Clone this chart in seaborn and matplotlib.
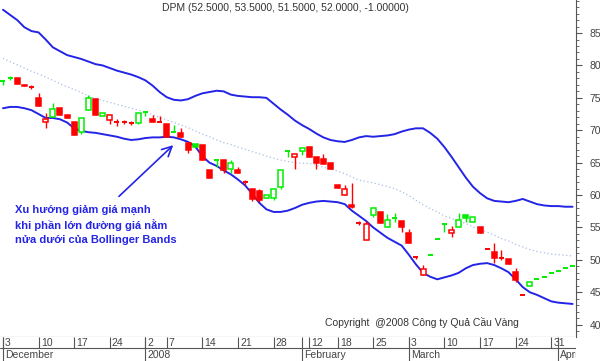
import matplotlib
matplotlib.use("Agg")
import matplotlib.pyplot as plt
from matplotlib.ticker import MultipleLocator
import seaborn as sns
import pandas as pd

# trading calendar (Tet holiday and new year closed)
holidays = ["2007-12-31", "2008-01-01", "2008-02-04", "2008-02-05", "2008-02-06",
            "2008-02-07", "2008-02-08", "2008-02-11"]
dates = pd.bdate_range("2007-12-03", "2008-04-03", freq="C", holidays=holidays)

opens = [77.6, 78.1, 78.1, 76.8, 76.7, 75.0, 71.3, 72.0, 73.4, 72.4,
         71.3, 69.7, 73.1, 74.8, 72.2, 71.6, 71.3, 71.2, 71.15, 71.1,
         72.8, 71.7, 71.25, 71.0, 69.8, 69.6, 68.0, 67.9, 67.8, 63.9,
         65.4, 65.4, 64.1, 63.9, 62.0, 60.9, 60.6, 59.5, 59.5, 61.2,
         66.8, 65.9, 66.8, 67.4, 65.9, 65.6, 64.9, 61.5, 60.0, 58.4,
         55.7, 53.1, 56.9, 57.4, 55.1, 56.5, 56.0, 54.1, 50.4, 47.7,
         50.7, 53.2, 55.5, 54.1, 55.1, 56.9, 55.8, 55.1, 51.7, 51.2,
         50.25, 50.2, 48.1, 44.6, 46.0, 47.0, 47.3, 48.0, 48.3, 48.7, 49.0]
highs = [77.6, 78.4, 78.1, 77.1, 77.0, 75.7, 72.7, 74.2, 73.4, 72.4,
         71.3, 71.9, 75.5, 74.8, 72.7, 72.4, 71.7, 71.6, 71.5, 72.7,
         72.8, 72.4, 72.2, 71.0, 70.8, 70.3, 68.0, 67.9, 67.8, 63.9,
         65.4, 65.4, 65.4, 64.3, 62.4, 60.9, 60.9, 60.0, 60.9, 63.9,
         66.8, 66.3, 67.3, 67.4, 65.9, 66.3, 64.9, 61.5, 61.5, 61.9,
         56.0, 56.0, 58.0, 57.4, 57.1, 57.2, 56.0, 54.8, 50.6, 49.2,
         50.7, 53.2, 55.5, 55.2, 57.2, 56.9, 56.6, 55.1, 51.7, 52.6,
         51.5, 50.2, 48.7, 44.6, 46.6, 47.0, 47.3, 48.0, 48.3, 48.7, 49.0]
lows = [77.0, 77.8, 77.1, 76.8, 76.4, 73.7, 70.3, 72.0, 72.4, 71.9,
        69.3, 69.5, 73.1, 72.4, 72.2, 70.9, 70.6, 70.9, 70.8, 71.0,
        72.2, 71.3, 71.25, 69.0, 69.8, 69.0, 66.5, 67.4, 65.4, 62.6,
        64.3, 63.4, 63.4, 63.4, 61.6, 59.1, 59.0, 59.5, 59.2, 60.9,
        65.9, 64.0, 66.2, 65.9, 64.0, 64.85, 64.0, 61.1, 60.0, 58.0,
        55.4, 53.1, 56.6, 55.7, 55.1, 55.8, 54.3, 52.6, 50.2, 47.7,
        50.7, 53.2, 54.3, 53.5, 55.1, 55.8, 55.8, 54.1, 51.7, 49.5,
        50.0, 49.4, 46.6, 44.6, 46.0, 47.0, 47.3, 48.0, 48.3, 48.7, 49.0]
closes = [77.6, 78.1, 77.1, 77.05, 76.7, 73.7, 71.8, 73.3, 72.4, 71.9,
          69.3, 71.9, 75.0, 72.4, 72.7, 72.4, 71.3, 71.2, 71.15, 72.7,
          72.8, 71.3, 71.25, 69.0, 69.8, 69.0, 67.0, 67.4, 65.4, 62.6,
          65.4, 63.9, 64.9, 63.4, 62.0, 59.4, 59.3, 60.0, 60.9, 63.9,
          66.8, 66.3, 67.3, 65.9, 64.9, 64.85, 64.0, 61.1, 60.9, 58.1,
          55.7, 55.6, 58.0, 55.7, 56.1, 56.5, 55.1, 52.6, 50.4, 48.6,
          50.7, 53.2, 55.5, 54.6, 56.1, 56.5, 56.6, 54.1, 51.7, 50.3,
          50.25, 49.4, 46.9, 44.6, 46.6, 47.0, 47.3, 48.0, 48.3, 48.7, 49.0]

upper = [88.6, 87.8, 87.0, 85.9, 85.3, 85.1, 84.0, 82.8, 82.2, 81.6,
         81.3, 81.0, 80.6, 80.2, 80.0, 79.6, 79.2, 78.9, 78.6, 78.2,
         77.7, 76.9, 75.9, 75.1, 74.7, 74.6, 74.8, 75.3, 75.7, 75.9,
         76.1, 76.0, 75.5, 75.3, 75.2, 75.1, 75.1, 75.0, 74.1, 73.2,
         72.4, 71.5, 70.8, 70.2, 69.5, 68.9, 68.5, 68.3, 68.2, 68.5,
         68.9, 69.1, 69.0, 69.1, 69.2, 69.4, 69.8, 70.1, 70.3, 70.3,
         69.6, 68.7, 67.4, 65.9, 64.3, 62.7, 61.3, 60.3, 59.5, 59.1,
         59.0, 58.9, 59.1, 59.4, 59.0, 58.6, 58.4, 58.3, 58.3, 58.2, 58.2]
middle = [81.1, 80.6, 80.1, 79.6, 79.1, 78.7, 78.2, 77.7, 77.2, 76.7,
          76.3, 75.8, 75.3, 74.9, 74.6, 74.3, 74.0, 73.7, 73.4, 73.1,
          72.8, 72.4, 72.0, 71.6, 71.2, 70.8, 70.4, 69.9, 69.4, 69.0,
          68.5, 68.1, 67.8, 67.4, 67.1, 66.7, 66.4, 66.0, 65.7, 65.4,
          65.2, 65.0, 64.9, 64.9, 64.6, 64.3, 64.0, 63.7, 63.3, 62.8,
          62.3, 62.1, 61.9, 61.6, 61.3, 61.0, 60.5, 59.9, 59.2, 58.5,
          57.9, 57.4, 56.8, 56.4, 56.0, 55.6, 55.1, 54.7, 54.3, 53.8,
          53.3, 52.9, 52.4, 52.0, 51.6, 51.3, 51.1, 50.9, 50.8, 50.7, 50.6]
lower = [73.4, 73.6, 73.6, 73.4, 73.1, 72.5, 71.9, 71.9, 71.7, 71.2,
         70.3, 69.9, 69.7, 69.6, 69.4, 69.2, 69.0, 68.7, 68.5, 68.6,
         68.8, 68.9, 68.9, 69.0, 68.9, 68.6, 68.2, 67.5, 66.0, 65.0,
         64.5, 63.8, 63.2, 62.4, 61.5, 60.2, 58.8, 57.8, 57.4, 57.4,
         57.6, 58.0, 58.5, 58.8, 59.0, 59.1, 59.0, 58.9, 58.6, 57.6,
         56.8, 56.0, 55.0, 54.2, 53.4, 52.8, 52.2, 50.8, 49.3, 48.0,
         47.4, 47.0, 47.3, 47.6, 48.0, 48.7, 49.2, 49.4, 49.5, 49.2,
         48.7, 48.1, 47.0, 45.8, 45.0, 44.6, 44.1, 43.6, 43.4, 43.3, 43.2]

month_names = {12: "December", 1: "2008", 2: "February", 3: "March", 4: "April"}

df = pd.DataFrame({"date": dates, "open": opens, "high": highs, "low": lows,
                   "close": closes, "upper": upper, "middle": middle, "lower": lower})
df["n"] = range(len(df))

sns.set_style("white")
plt.rcParams["font.family"] = ["Liberation Sans", "DejaVu Sans"]

UP = "#00ee00"
DOWN = "#ff0000"
BAND = "#2424e6"
GREY = "#444444"

fig = plt.figure(figsize=(6.0, 3.61), dpi=100)
ax = fig.add_axes([0, 24 / 361, 576 / 600, 337 / 361])

# bollinger bands
sns.lineplot(data=df, x="n", y="upper", ax=ax, color=BAND, lw=1.4)
sns.lineplot(data=df, x="n", y="lower", ax=ax, color=BAND, lw=1.4)
sns.lineplot(data=df, x="n", y="middle", ax=ax, color="#a9bfe6", lw=0.9, ls=(0, (1, 2)))

# candles
w = 0.7
prev = None
for r in df.itertuples():
    col = UP if prev is None or r.close >= prev else DOWN
    prev = r.close
    ax.vlines(r.n, r.low, r.high, color=col, lw=1.0, zorder=3)
    if r.open == r.close:
        ax.hlines(r.close, r.n - w / 2, r.n + w / 2, color=col, lw=1.4, zorder=4)
    else:
        face = "white" if r.close > r.open else col
        ax.bar(r.n, abs(r.close - r.open), bottom=min(r.open, r.close), width=w,
               facecolor=face, edgecolor=col, lw=1.1, zorder=4)

ax.set_xlim(-0.42, 80.48)
ax.set_ylim(38.1, 90.1)
ax.set_xlabel("")
ax.set_ylabel("")
ax.set_xticks([])
ax.yaxis.tick_right()
ax.set_yticks(range(40, 90, 5))
ax.yaxis.set_minor_locator(MultipleLocator(1))
ax.tick_params(axis="y", which="major", length=4, width=0.8, color="#555555",
               labelsize=7.5, labelcolor=GREY, pad=6, right=True, left=False)
ax.tick_params(axis="y", which="minor", length=2, width=0.6, color="#555555",
               right=True, left=False)
for s in ["left", "top"]:
    ax.spines[s].set_visible(False)
for s in ["right", "bottom"]:
    ax.spines[s].set_color("#555555")
    ax.spines[s].set_linewidth(0.8)

# annotation
ax.annotate("", xy=(24.2, 68.0), xytext=(16.0, 59.5),
            arrowprops=dict(arrowstyle="->, head_length=0.7, head_width=0.35",
                            color=BAND, lw=1.2))
note = ["Xu hướng giảm giá mạnh", "khi phần lớn đường giá nằm",
        "nửa dưới của Bollinger Bands"]
for k, line in enumerate(note):
    fig.text(15 / 600, 1 - (210 + 15 * k) / 361, line, color=BAND,
             fontsize=8, fontweight="bold", va="center", ha="left")

fig.text(162 / 600, 1 - 8 / 361, "DPM (52.5000, 53.5000, 51.5000, 52.0000, -1.00000)",
         fontsize=7.5, color="#333333", va="center", ha="left")
fig.text(325 / 600, 1 - 323 / 361, "Copyright  @2008 Công ty Quả Cầu Vàng",
         fontsize=7.5, color="#333333", va="center", ha="left")

# date strip below the chart
ax2 = fig.add_axes([0, 0, 576 / 600, 24 / 361])
ax2.set_xlim(ax.get_xlim())
ax2.set_ylim(0, 24)
ax2.set_xticks([])
ax2.set_yticks([])
for s in ["left", "top", "bottom", "right"]:
    ax2.spines[s].set_visible(False)
ax2.axhline(13, color="#555555", lw=0.8)

week = df["date"].dt.isocalendar().week.astype(int)
new_week = (week != week.shift()).tolist()
month = df["date"].dt.month
new_month = (month != month.shift()).tolist()
for r, nw, nm in zip(df.itertuples(), new_week, new_month):
    if nw:
        ax2.vlines(r.n, 13, 24, color="#555555", lw=0.8)
        ax2.text(r.n + 0.3, 18.5, str(r.date.day), fontsize=7.5, color=GREY,
                 va="center", ha="left", clip_on=True)
    if nm:
        ax2.vlines(r.n, 0, 24, color="#555555", lw=0.8, zorder=5)
        ax2.text(r.n + 0.3, 6.5, month_names[r.date.month], fontsize=7.5, color=GREY,
                 va="center", ha="left", clip_on=True)

fig.savefig("out.png", dpi=100)
